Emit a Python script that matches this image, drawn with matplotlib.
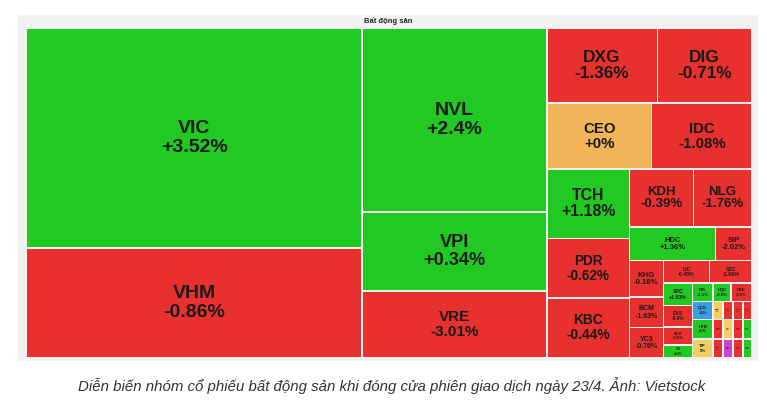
import matplotlib
matplotlib.use("Agg")
import matplotlib.pyplot as plt
from matplotlib.patches import Rectangle

plt.rcParams['font.family'] = ['Liberation Sans', 'DejaVu Sans']

G, R, O, B, Y, M = '#22c922', '#e8302f', '#f2b458', '#3a9fe0', '#f3cf62', '#cf3fd0'

# leaves: (ticker, change, weight, colour)
col1 = [("VIC", "+3.52%", 72800, G), ("VHM", "-0.86%", 36400, R)]
col2 = [("NVL", "+2.4%", 33500, G), ("VPI", "+0.34%", 14350, G), ("VRE", "-3.01%", 12150, R)]
row_a = [("DXG", "-1.36%", 8200, R), ("DIG", "-0.71%", 7000, R)]
row_b = [("CEO", "+0%", 6800, O), ("IDC", "-1.08%", 6500, R)]
col_t = [("TCH", "+1.18%", 5650, G), ("PDR", "-0.62%", 4850, R), ("KBC", "-0.44%", 4900, R)]
row_k = [("KDH", "-0.39%", 3650, R), ("NLG", "-1.76%", 3350, R)]
row_h = [("HDC", "+1.36%", 2850, G), ("SIP", "-2.02%", 1200, R)]
col_s = [("KHG", "-0.18%", 1220, R), ("BCM", "-1.63%", 1020, R), ("YC3", "-0.76%", 1020, R)]
row_l = [("LIC", "-0.45%", 1030, R), ("SZC", "-1.66%", 950, R)]
col_r = [("SRC", "+1.53%", 640, G), ("DXS", "-0.9%", 610, R), ("SCR", "-0.6%", 520, R), ("TIG", "+0.5%", 380, G)]
tiny1 = [("NTL", "+1.1%", 360, G), ("HQC", "+0.8%", 324, G), ("CRE", "-0.5%", 378, R)]
tiny2 = [("QCG", "+0%", 360, B), ("NBB", "0%", 180, Y), ("SCG", "-1%", 180, R), ("TDC", "-1%", 180, R), ("LDG", "-1%", 162, R)]
tiny3 = [("HTN", "+1%", 380, G), ("D2D", "-1%", 190, R), ("API", "0%", 190, Y), ("CKG", "-1%", 190, R), ("NHA", "+1%", 171, G)]
tiny4 = [("TIP", "0%", 380, Y), ("HAR", "-1%", 190, R), ("FIR", "+7%", 190, M), ("VRC", "-1%", 190, R), ("PTL", "+1%", 171, G)]

tree = ('h', [
    ('v', col1),
    ('v', col2),
    ('v', [('h', row_a), ('h', row_b),
           ('h', [('v', col_t),
                  ('v', [('h', row_k), ('h', row_h),
                         ('h', [('v', col_s),
                                ('v', [('h', row_l),
                                       ('h', [('v', col_r),
                                              ('v', [('h', tiny1), ('h', tiny2), ('h', tiny3), ('h', tiny4)])])])])])])]),
])

def weight(n):
    if isinstance(n[1], list):
        return sum(weight(c) for c in n[1])
    return n[2]

fig = plt.figure(figsize=(7.67, 4.08), dpi=100)
ax = fig.add_axes([0, 0, 1, 1])
ax.set_xlim(0, 767); ax.set_ylim(408, 0); ax.axis('off')

ax.add_patch(Rectangle((18, 15), 740, 346, facecolor='#f2f2f2', edgecolor='none'))
ax.text(388, 21, "Bất động sản", ha='center', va='center', fontsize=5.5, fontweight='bold', color='#222222')

def draw(n, x, y, w, h):
    if isinstance(n[1], list):
        tot = weight(n); pos = 0
        for c in n[1]:
            f = weight(c) / tot
            if n[0] == 'h':
                draw(c, x + pos * w, y, f * w, h)
            else:
                draw(c, x, y + pos * h, w, f * h)
            pos += f
        return
    name, pct, _, col = n
    ax.add_patch(Rectangle((x + 0.8, y + 0.8), w - 1.6, h - 1.6, facecolor=col, edgecolor='none'))
    fs = min(14, 0.165 * min(w, h), 0.17 * w)
    ax.text(x + w / 2, y + h / 2, f"{name}\n{pct}", ha='center', va='center', fontsize=fs,
            fontweight='bold', color='#1a1a1a', linespacing=1.1)

draw(tree, 26, 28, 726, 330)

ax.text(392, 386, "Diễn biến nhóm cổ phiếu bất động sản khi đóng cửa phiên giao dịch ngày 23/4. Ảnh: Vietstock",
        ha='center', va='center', fontsize=10.8, style='italic', color='#333333')

fig.savefig("out.png", dpi=100)
